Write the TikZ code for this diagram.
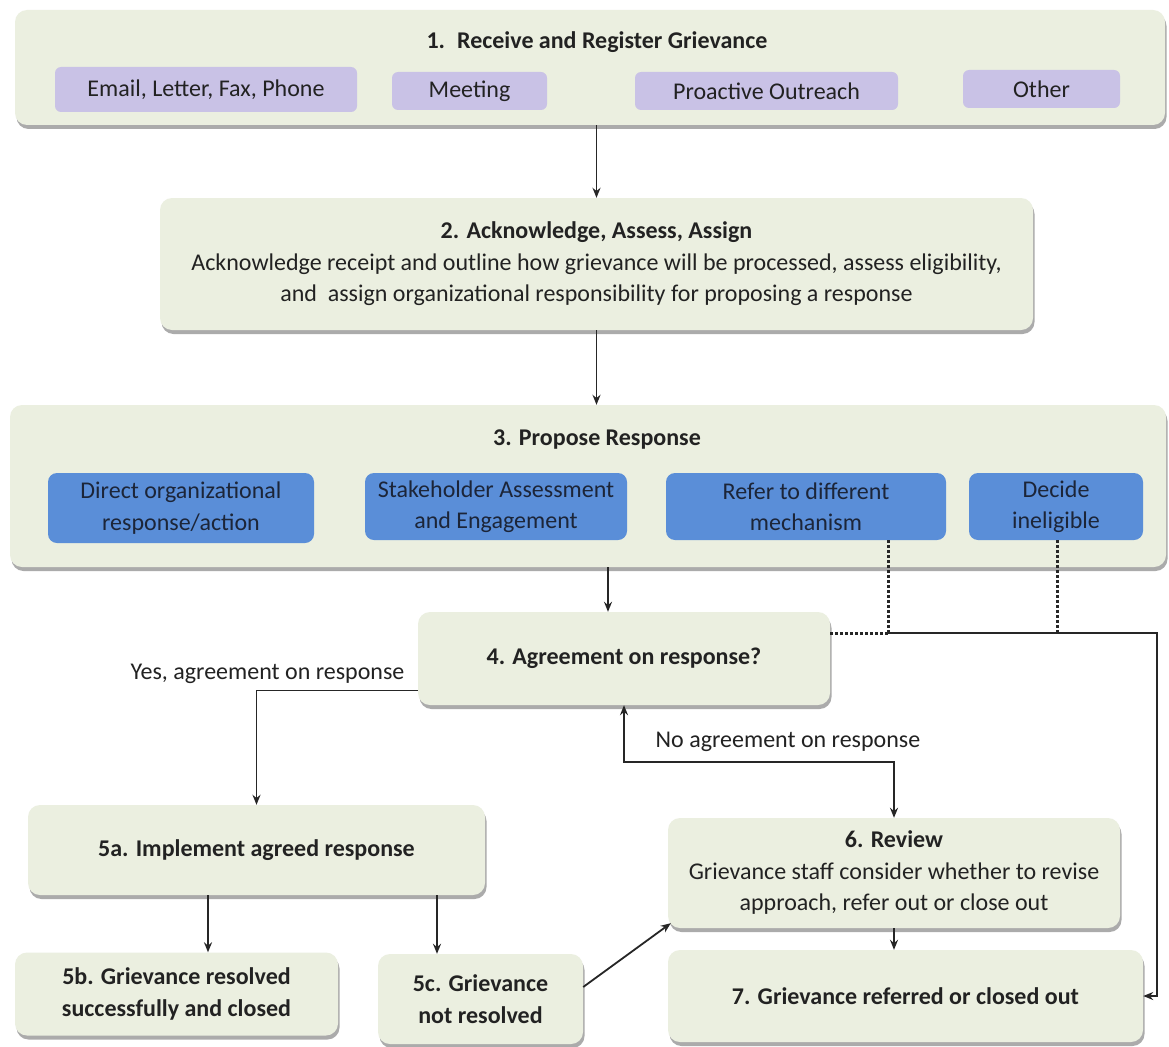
\documentclass[tikz,border=0pt]{standalone}
\usepackage{fontspec}
\setmainfont{Carlito}
\usetikzlibrary{arrows.meta,shadows,calc}
\definecolor{boxfill}{HTML}{EBEFE0}
\definecolor{purp}{HTML}{C9C2E6}
\definecolor{blu}{HTML}{5A8ED8}
\definecolor{txt}{HTML}{222222}
\definecolor{bluetxt}{HTML}{1C2538}
\newcommand\fsn{\fontsize{24}{31.5}\selectfont}
\begin{document}
\begin{tikzpicture}[x=1pt,y=-1pt,
  stage/.style={rounded corners=12pt, fill=boxfill, draw=none,
    drop shadow={shadow xshift=1.5pt, shadow yshift=-4pt, fill=black!60, opacity=0.55},
    inner sep=0pt, align=center, font=\fsn, text=txt},
  chan/.style={rounded corners=6pt, fill=purp, draw=none, inner sep=0pt, font=\fsn, text=txt},
  opt/.style={rounded corners=9pt, fill=blu, draw=none, inner sep=0pt, align=center, font=\fsn, text=bluetxt},
  lbl/.style={font=\fsn, text=txt, inner sep=0pt},
  arr/.style={draw=black!85, line width=1.8pt, -{Stealth[length=10pt,width=8pt]}},
  arrb/.style={draw=black!85, line width=1.8pt, {Stealth[length=10pt,width=8pt]}-{Stealth[length=10pt,width=8pt]}},
  dots/.style={draw=black!85, line width=3pt, dash pattern=on 2.6pt off 2.4pt}]
\useasboundingbox[fill=white] (0,0) rectangle (1169,1046);

% Box 1
\node[stage, minimum width=1150pt, minimum height=115pt] (b1) at (590,67.5) {};
\node[lbl, font=\fsn\bfseries] (t1) at (597,42) {1.\enspace Receive and Register Grievance};
\node[chan, minimum width=302pt, minimum height=45pt] (p1) at (206,89.5) {Email, Letter, Fax, Phone};
\node[chan, minimum width=155pt, minimum height=38pt] (p2) at (469.5,91) {Meeting};
\node[chan, minimum width=263pt, minimum height=38pt] (p3) at (766.5,91) {Proactive Outreach};
\node[chan, minimum width=157pt, minimum height=38pt] (p4) at (1041.5,89) {Other};

% Box 2
\node[stage, minimum width=873pt, minimum height=132pt] (b2) at (596.5,264)
  {{\bfseries 2. Acknowledge, Assess, Assign}\\
   Acknowledge receipt and outline how grievance will be processed, assess eligibility,\\
   and\ \ assign organizational responsibility for proposing a response};

% Box 3
\node[stage, minimum width=1156pt, minimum height=162pt] (b3) at (588,486) {};
\node[lbl, font=\fsn\bfseries] (t3) at (597,440) {3. Propose Response};
\node[opt, minimum width=266pt, minimum height=70pt] (o1) at (181,508) {Direct organizational\\response/action};
\node[opt, minimum width=262pt, minimum height=67pt] (o2) at (496,506.5) {Stakeholder Assessment\\and Engagement};
\node[opt, minimum width=280pt, minimum height=67pt] (o3) at (806,506.5) {Refer to different\\mechanism};
\node[opt, minimum width=174pt, minimum height=67pt] (o4) at (1056,506.5) {Decide\\ineligible};

% Box 4
\node[stage, minimum width=412pt, minimum height=93pt, font=\fsn\bfseries] (b4) at (624,658.5) {4. Agreement on response?};

% Box 5a, 5b, 5c
\node[stage, minimum width=457pt, minimum height=90pt, font=\fsn\bfseries] (b5a) at (256.5,850) {5a. Implement agreed response};
\node[stage, minimum width=323pt, minimum height=83pt, font=\fsn\bfseries] (b5b) at (176.5,994) {5b. Grievance resolved\\successfully and closed};
\node[stage, minimum width=205pt, minimum height=90pt, font=\fsn\bfseries] (b5c) at (480.5,999) {5c. Grievance\\not resolved};

% Box 6, 7
\node[stage, minimum width=452pt, minimum height=110pt] (b6) at (894,873)
  {{\bfseries 6. Review}\\Grievance staff consider whether to revise\\approach, refer out or close out};
\node[stage, minimum width=475pt, minimum height=92pt, font=\fsn\bfseries] (b7) at (905.5,996) {7. Grievance referred or closed out};

% coordinates
\coordinate (J1) at (888,633);
\coordinate (J2) at (1057,633);
\coordinate (R) at (1157,633);
\coordinate (x4) at ([xshift=-16pt]b4.north);
\coordinate (yesA) at ([yshift=-32pt]b4.west);
\coordinate (x5b) at ([xshift=31.5pt]b5b.north);
\coordinate (x5c) at ([xshift=-43.5pt]b5c.north);
\coordinate (c5s) at ([yshift=12pt]b5c.east);
\coordinate (c6e) at ([shift={(3pt,5pt)}]b6.south west);

% connectors
\draw[arr] (b1.south -| b2.north) -- (b2.north);
\draw[arr] (b2.south) -- (b3.north -| b2.south);
\draw[arr] (b3.south -| x4) -- (x4);
\draw[arr] (yesA) -| (b5a.north);
\node[lbl, anchor=south] (yl) at (267.5,684) {Yes, agreement on response};
\draw[arrb] (b4.south) -- ++(0,57) -| (b6.north);
\node[lbl] (nl) at (788,742) {No agreement on response};
\draw[arr] (b5a.south -| x5b) -- (x5b);
\draw[arr] (b5a.south -| x5c) -- (x5c);
\draw[arr] (c5s) -- (c6e);
\draw[arr] (b6.south) -- (b7.north -| b6.south);
\draw[dots] (o3.south -| J1) -- (J1);
\draw[dots] (o4.south -| J2) -- (J2);
\draw[dots] (b4.east |- J1) -- (J1);
\draw[arr] (J1) -- (R) |- (b7.east);
\end{tikzpicture}
\end{document}
